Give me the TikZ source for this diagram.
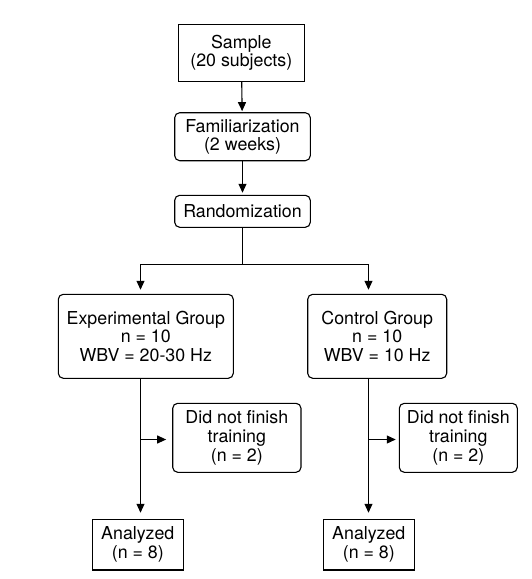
\documentclass[tikz,border=0pt]{standalone}
\usepackage{fontspec}
\setmainfont{TeX Gyre Heros}
\usetikzlibrary{arrows.meta}
\begin{document}
\begin{tikzpicture}[x=1pt,y=-1pt,
  box/.style={draw,line width=1.1pt,inner sep=0pt,align=center,font=\fontsize{17.8}{18.6}\selectfont},
  rbox/.style={box,rounded corners=5pt},
  arr/.style={line width=1.1pt,-{Triangle[length=9pt,width=8pt]}},
  ln/.style={line width=1.1pt}]
\useasboundingbox (0,0) rectangle (531,579);
\node[box,minimum width=126pt,minimum height=56.7pt] (sample) at (241.3,52.7) {Sample\\(20 subjects)};
\node[rbox,minimum width=135.6pt,minimum height=48pt] (fam) at (242.5,136.7) {Familiarization\\(2 weeks)};
\node[rbox,minimum width=135.6pt,minimum height=32pt] (rand) at (242.5,211.3) {Randomization};
\node[rbox,minimum width=175pt,minimum height=84pt] (exp) at (145.8,336.3) {Experimental Group\\n = 10\\WBV = 20-30 Hz};
\node[rbox,minimum width=139pt,minimum height=84pt] (ctrl) at (377.2,336.3) {Control Group\\n = 10\\WBV = 10 Hz};
\node[rbox,minimum width=128.3pt,minimum height=69pt] (dnfL) at (236.85,437.8) {Did not finish\\training\\(n = 2)};
\node[rbox,minimum width=118pt,minimum height=69pt] (dnfR) at (458.3,437.8) {Did not finish\\training\\(n = 2)};
\node[box,minimum width=91pt,minimum height=50.7pt] (anaL) at (137.8,544.65) {Analyzed\\(n = 8)};
\node[box,minimum width=91pt,minimum height=50.7pt] (anaR) at (368.8,544.65) {Analyzed\\(n = 8)};
\coordinate (colL) at (140.5,264.5);
\coordinate (colR) at (368.5,264.5);
\coordinate (bL) at (140.5,439.5);
\coordinate (bR) at (368.5,439.5);
\draw[arr,shorten >=1pt] (sample) -- (fam);
\draw[arr,shorten >=2pt] (fam) -- (rand);
\draw[ln] (rand.south) -- (rand.south |- colL);
\draw[arr,shorten >=4pt] (rand.south |- colL) -- (colL) -- (colL |- exp.north);
\draw[arr,shorten >=4pt] (rand.south |- colR) -- (colR) -- (colR |- ctrl.north);
\draw[arr,shorten >=6pt] (colL |- exp.south) -- (colL |- anaL.north);
\draw[arr,shorten >=6pt] (colR |- ctrl.south) -- (colR |- anaR.north);
\draw[arr,shorten >=6pt] (bL) -- (bL -| dnfL.west);
\draw[arr,shorten >=3pt] (bR) -- (bR -| dnfR.west);
\end{tikzpicture}
\end{document}
